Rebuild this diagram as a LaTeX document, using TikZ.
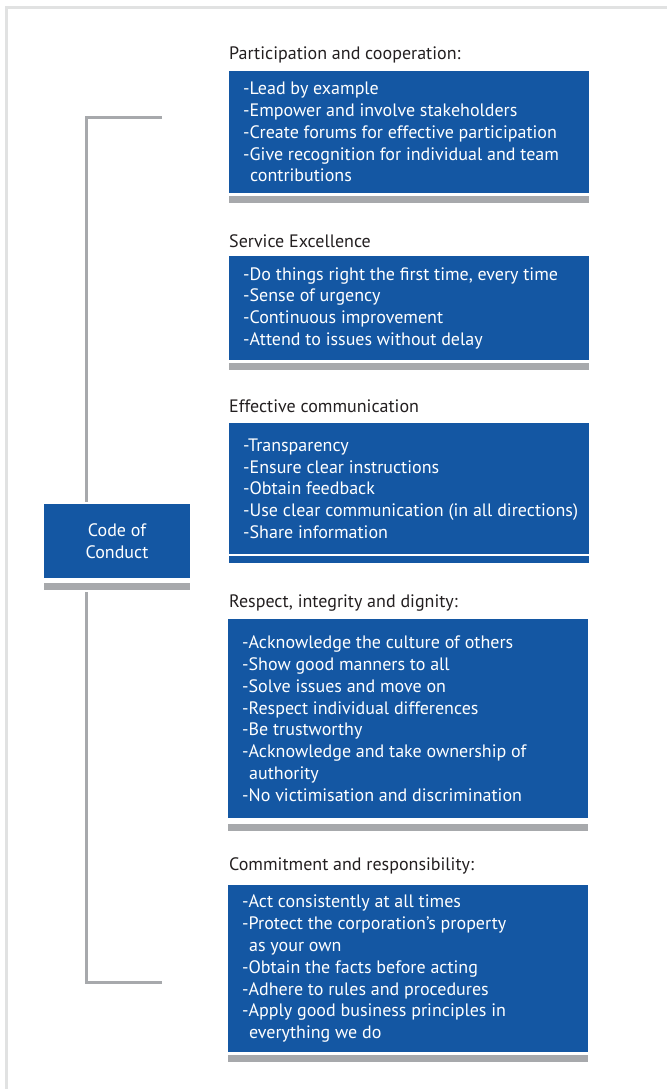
\documentclass[tikz,border=0pt]{standalone}
\usepackage{fontspec}
\setmainfont{PT Sans}
\usepackage{xcolor}
\usepackage{tikz}
\usetikzlibrary{positioning}
\definecolor{cocblue}{HTML}{1457A3}
\definecolor{cocgray}{HTML}{A7A9AC}
\definecolor{framegray}{HTML}{E1E2E2}
\definecolor{headgray}{HTML}{231F20}
\tikzset{
	itembox/.style = {
			fill            = cocblue,
			inner sep       = 0pt,
			minimum width   = 360pt,
			anchor          = north west,
		},
	underbar/.style = {
			fill            = cocgray,
			inner sep       = 0pt,
			minimum width   = 360pt,
			minimum height  = 6.5pt,
			anchor          = north west,
		},
	itemtext/.style = {
			text            = white,
			align           = left,
			inner sep       = 0pt,
			font            = \fontsize{18}{21.8}\selectfont,
		},
	headline/.style = {
			text            = headgray,
			inner sep       = 0pt,
			anchor          = west,
			font            = \fontsize{18}{22}\selectfont,
		},
	bracket/.style = {draw=cocgray, line width=3pt},
	frameline/.style = {draw=framegray, line width=3pt},
}

\begin{document}
\begin{tikzpicture}[x=1pt,y=-1pt]
        \useasboundingbox (0,0) rectangle (667,1089);
        \draw[frameline] (6.5,1089) -- (6.5,7.5) -- (667,7.5);
        \node[headline] at (229,55) (h1) {Participation and cooperation:};
        \node[itembox, minimum height=122pt] at (229,71) (b1) {};
        \node[itemtext, right=14pt of b1.west] (t1) {-Lead by example\\-Empower and involve stakeholders\\-Create forums for effective participation\\-Give recognition for individual and team\\\hspace*{7pt}contributions};
        \node[underbar] at (229,196) (u1) {};
        \node[headline] at (229,241) (h2) {Service Excellence};
        \node[itembox, minimum height=104pt] at (229,256) (b2) {};
        \node[itemtext, right=14pt of b2.west] (t2) {-Do things right the first time, every time\\-Sense of urgency\\-Continuous improvement\\-Attend to issues without delay};
        \node[underbar] at (229,363) (u2) {};
        \node[headline] at (229,406) (h3) {Effective communication};
        \node[itembox, minimum height=131pt] at (229,423) (b3) {};
        \node[itemtext, right=14pt of b3.west] (t3) {-Transparency\\-Ensure clear instructions\\-Obtain feedback\\-Use clear communication (in all directions)\\-Share information};
        \node[underbar, fill=cocblue] at (229,556) (u3) {};
        \node[headline] at (229,603) (h4) {Respect, integrity and dignity:};
        \node[itembox, minimum height=199pt] at (228,619) (b4) {};
        \node[itemtext, right=14pt of b4.west] (t4) {-Acknowledge the culture of others\\-Show good manners to all\\-Solve issues and move on\\-Respect individual differences\\-Be trustworthy\\-Acknowledge and take ownership of\\\hspace*{7pt}authority\\-No victimisation and discrimination};
        \node[underbar] at (228,824) (u4) {};
        \node[headline] at (229,866) (h5) {Commitment and responsibility:};
        \node[itembox, minimum height=167pt] at (228,885) (b5) {};
        \node[itemtext, right=14pt of b5.west] (t5) {-Act consistently at all times\\-Protect the corporation’s property\\\hspace*{7pt}as your own\\-Obtain the facts before acting\\-Adhere to rules and procedures\\-Apply good business principles in\\\hspace*{7pt}everything we do};
        \node[underbar] at (228,1055) (u5) {};
        \node[itembox, itemtext, align=center, anchor=center, minimum width=146pt, minimum height=74pt] at (117,541) (cc) {Code of\\Conduct};
        \node[underbar, minimum width=146pt] at (44,583) (cu) {};
        \coordinate (top) at (162,118);
        \coordinate (bot) at (162,982);
        \coordinate (ctop) at (86,502);
        \coordinate (cbot) at (86,592);
        \draw[bracket] (top) -| (ctop);
        \draw[bracket] (bot) -| (cbot);
      \end{tikzpicture}
\end{document}
